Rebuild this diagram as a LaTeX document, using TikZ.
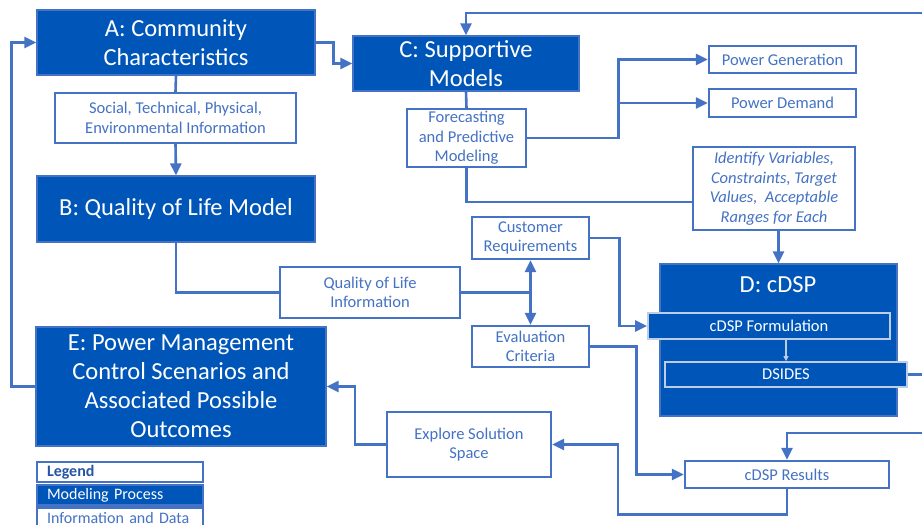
\documentclass[tikz,border=0pt]{standalone}
\usepackage{fontspec}
\setmainfont{Carlito}
\usetikzlibrary{arrows.meta}
\definecolor{procblue}{RGB}{0,86,184}
\definecolor{lineblue}{RGB}{68,114,196}
\definecolor{legendblue}{RGB}{40,84,165}
\definecolor{edgegray}{RGB}{190,205,230}
\tikzset{
  proc/.style={draw=lineblue, line width=1.2pt, fill=procblue, text=white, align=center,
    inner sep=0pt, font=\fontsize{24.5}{29}\selectfont},
  info/.style={draw=lineblue, line width=2.4pt, fill=white, text=lineblue, align=center,
    inner sep=0pt, font=\fontsize{16.5}{19.5}\selectfont},
  sub/.style={draw=edgegray, line width=1.8pt, fill=procblue, text=white,
    inner sep=0pt, font=\fontsize{16.5}{19.5}\selectfont},
  leg/.style={info, minimum width=166pt, minimum height=20pt, text width=146pt, align=left,
    font=\fontsize{16}{19}\selectfont},
  link/.style={draw=lineblue, line width=2.6pt},
  arr/.style={link, -{Triangle[length=12pt,width=11pt]}},
  thin arr/.style={draw=edgegray, line width=1.2pt, -{Triangle[length=5pt,width=5pt]}}
}
\begin{document}
\begin{tikzpicture}[x=1pt,y=-1pt]
  \useasboundingbox (0,0) rectangle (922,525);
  % modeling processes
  \node[proc, minimum width=278pt, minimum height=65pt]  (a) at (176,42.5)  {A: Community\\Characteristics};
  \node[proc, minimum width=278pt, minimum height=66pt]  (b) at (176,209)   {B: Quality of Life Model};
  \node[proc, minimum width=226pt, minimum height=55pt]  (c) at (466,63.5)  {C: Supportive\\Models};
  \node[proc, minimum width=237pt, minimum height=152pt] (d) at (778.5,340) {};
  \node[proc, minimum width=290pt, minimum height=119pt] (e) at (181,386.5) {E: Power Management\\Control Scenarios and\\Associated Possible\\Outcomes};
  \node[text=white, font=\fontsize{24.5}{29}\selectfont] (dt) at (778,285) {D: cDSP};
  \node[sub, minimum width=242pt, minimum height=26pt] (frm) at (769,326)   {cDSP Formulation};
  \node[sub, minimum width=242pt, minimum height=25pt] (ds)  at (786,374.5) {DSIDES};
  % information and data
  \node[info, minimum width=241pt, minimum height=50pt] (soc) at (175.5,118) {Social, Technical, Physical,\\Environmental Information};
  \node[info, minimum width=119pt, minimum height=58pt] (fpm) at (466.5,138) {Forecasting\\and Predictive\\Modeling};
  \node[info, minimum width=147pt, minimum height=27pt] (pg)  at (782.5,59.5) {Power Generation};
  \node[info, minimum width=147pt, minimum height=28pt] (pd)  at (782.5,103) {Power Demand};
  \node[info, minimum width=162pt, minimum height=83pt, font=\fontsize{16.5}{19.5}\selectfont\itshape] (iv) at (774,188.5)
    {Identify Variables,\\Constraints, Target\\Values,~ Acceptable\\Ranges for Each};
  \node[info, minimum width=117pt, minimum height=42pt] (cr)  at (530.5,238)   {Customer\\Requirements};
  \node[info, minimum width=180pt, minimum height=51pt] (qol) at (370,292.5)   {Quality of Life\\Information};
  \node[info, minimum width=117pt, minimum height=41pt] (ec)  at (530.5,346.5) {Evaluation\\Criteria};
  \node[info, minimum width=164pt, minimum height=65pt] (ess) at (469,444.5)   {Explore Solution\\Space};
  \node[info, minimum width=204pt, minimum height=27pt] (res) at (787,474.5)   {cDSP Results};
  % legend
  \node[leg, text=legendblue, font=\fontsize{16}{19}\selectfont\bfseries] (lg) at (120,472) {Legend};
  \node[leg, fill=procblue, text=white] (lgp) at (120,495) {Modeling Process};
  \node[leg] (lgi) at (120,517.5) {Information and Data};
  % loose ends at the right border
  \coordinate (out1) at (935,13);
  \coordinate (out2) at (935,374.5);
  \coordinate (out3) at (935,433);
  % connectors
  \draw[arr]  (a.east) -- ++(18,0) |- (c.west);
  \draw[arr]  (out1) -| (c.north);
  \draw[link] (c.south) -- (fpm.north);
  \draw[arr]  (fpm.east) -- ++(91,0) |- (pg.west);
  \draw[arr]  (fpm.east) -- ++(91,0) |- (pd.west);
  \draw[link] (fpm.south) |- ([yshift=-13.5pt]iv.west);
  \draw[arr]  (iv.south -| d.north) -- (d.north);
  \draw[link] (a.south) -- (soc.north);
  \draw[arr]  (soc.south) -- (b.north);
  \draw[link] (b.south) |- (qol.west);
  \coordinate (j) at (qol.east -| cr.south);
  \draw[link] (qol.east) -- (j);
  \draw[arr]  (j) -- (cr.south);
  \draw[arr]  (j) -- (ec.north);
  \draw[arr]  (cr.east) -- ++(29,0) |- (frm.west);
  \draw[arr]  (ec.east) -- ++(46,0) |- (res.west);
  \draw[thin arr] (frm.south -| ds.north) -- (ds.north);
  \draw[link] (ds.east) -- (out2);
  \draw[arr]  (out3) -| (res.north);
  \draw[arr]  (res.south) -- ++(0,25) -- ++(-169,0) |- (ess.east);
  \draw[arr]  (ess.west) -- ++(-31,0) |- (e.east);
  \draw[arr]  (e.west) -- ++(-24,0) |- (a.west);
\end{tikzpicture}
\end{document}
